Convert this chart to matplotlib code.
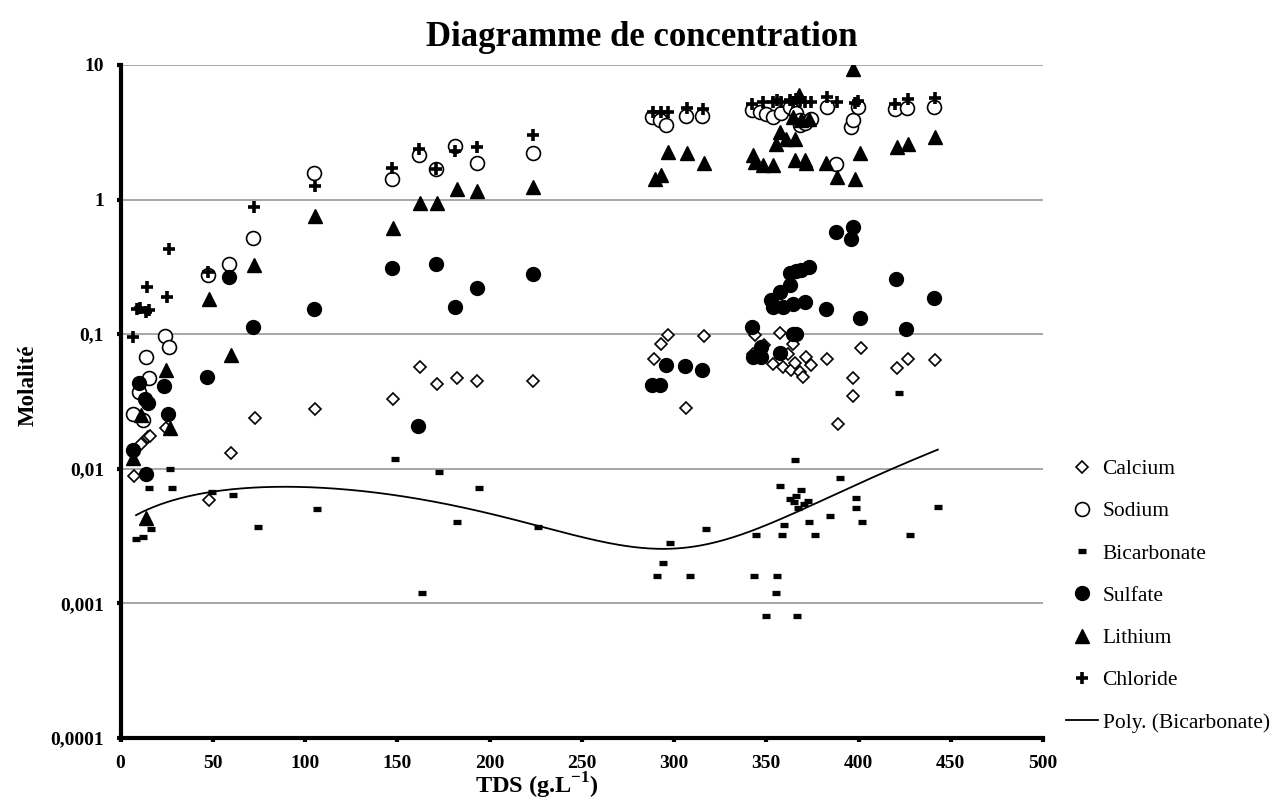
import matplotlib
matplotlib.use('Agg')
import matplotlib.pyplot as plt
import numpy as np
from matplotlib.ticker import FixedLocator, FixedFormatter, NullLocator

plt.rcParams['font.family'] = ['Liberation Serif', 'DejaVu Serif']
plt.rcParams['mathtext.fontset'] = 'custom'
plt.rcParams['mathtext.rm'] = 'Liberation Serif'
plt.rcParams['mathtext.bf'] = 'Liberation Serif:bold'

# TDS (g/L) and molality
calcium_x = [7.3, 11, 15.1, 16, 24.6, 48.1, 59.7, 72.7, 105.4, 147.5, 162.2, 171.6, 182.1, 193.4, 223.5,
             289.2, 292.8, 296.8, 306.7, 316.1, 342.8, 343.7, 348.5, 353.6, 357.3, 358.9, 362, 363.6,
             364.5, 365.4, 368.1, 369.9, 371.7, 374.4, 382.9, 388.9, 396.9, 397, 401.3, 420.8, 426.8, 441.3]
calcium_y = [0.0088, 0.0153, 0.0171, 0.0175, 0.020, 0.0059, 0.0131, 0.0239, 0.0279, 0.0331, 0.0566, 0.043,
             0.047, 0.045, 0.045, 0.065, 0.084, 0.098, 0.0283, 0.097, 0.071, 0.098, 0.083, 0.060, 0.102,
             0.057, 0.071, 0.054, 0.084, 0.061, 0.052, 0.048, 0.068, 0.059, 0.065, 0.0214, 0.047, 0.035,
             0.079, 0.056, 0.065, 0.064]

sodium_x = [6.6, 10.2, 12.4, 13.8, 15.4, 24.1, 26.3, 47.2, 59, 72, 104.8, 147.3, 161.7, 170.9, 181.2,
            193.4, 223.5, 288.3, 292.3, 295.9, 306.3, 315.4, 342.2, 346.4, 350, 353.6, 358.2, 362.7, 366,
            368.1, 368.5, 371, 374.4, 382.9, 388, 396.1, 397, 399.7, 419.6, 426.2, 440.7]
sodium_y = [0.0254, 0.037, 0.023, 0.068, 0.047, 0.097, 0.081, 0.275, 0.335, 0.52, 1.58, 1.43, 2.14, 1.70,
            2.5, 1.87, 2.21, 4.12, 3.9, 3.58, 4.2, 4.2, 4.62, 4.5, 4.3, 4.12, 4.37, 4.9, 4.4, 3.9, 3.58,
            3.7, 4.0, 4.9, 1.84, 3.47, 3.9, 4.9, 4.74, 4.8, 4.85]

bicarb_x = [8.4, 12.4, 15.6, 16.3, 26.8, 27.9, 49.4, 60.8, 74.5, 106.6, 148.7, 163.2, 172.5, 182.5, 194.3,
            226.2, 290.5, 294, 297.7, 308.5, 317.2, 343.4, 344.6, 349.7, 355.1, 355.8, 357.3, 358.7,
            359.4, 363.1, 365, 365.4, 366, 366.6, 367.4, 369, 370.3, 372.4, 373.1, 376.2, 384.3, 389.8,
            398.8, 398.8, 401.7, 422, 427.7, 443]
bicarb_y = [0.0030, 0.0031, 0.0072, 0.0036, 0.0099, 0.0072, 0.0067, 0.0064, 0.0037, 0.0050, 0.0119,
            0.0012, 0.0094, 0.0040, 0.0072, 0.0037, 0.00161, 0.0020, 0.00279, 0.00161, 0.0036, 0.0016,
            0.0032, 0.0008, 0.0012, 0.0016, 0.0075, 0.0032, 0.00385, 0.0060, 0.0057, 0.0116, 0.0063,
            0.0008, 0.0051, 0.0070, 0.0055, 0.0058, 0.0040, 0.0032, 0.00444, 0.0086, 0.0061, 0.0051,
            0.0040, 0.0367, 0.0032, 0.0052]

sulfate_x = [6.9, 10.2, 13.8, 13, 15.1, 23.7, 25.9, 47, 59, 72, 104.8, 146.9, 161.3, 171, 181.2, 193.4,
             223.5, 288.3, 292.3, 295.9, 306.2, 315.4, 342, 342.8, 347.4, 347.4, 352.8, 353.6, 357.3,
             357.3, 358.9, 362.7, 362.7, 364.5, 364.5, 366.2, 366.2, 368.9, 370.8, 373.4, 382.4, 388,
             396.1, 397, 400.7, 420.1, 426, 440.7]
sulfate_y = [0.0139, 0.0435, 0.0091, 0.033, 0.031, 0.041, 0.0254, 0.048, 0.266, 0.113, 0.153, 0.308,
             0.0207, 0.33, 0.16, 0.22, 0.28, 0.042, 0.042, 0.059, 0.058, 0.054, 0.113, 0.068, 0.080,
             0.068, 0.179, 0.16, 0.206, 0.072, 0.16, 0.283, 0.231, 0.169, 0.101, 0.295, 0.101, 0.30,
             0.174, 0.316, 0.155, 0.57, 0.51, 0.63, 0.133, 0.255, 0.11, 0.186]

lithium_x = [6.9, 11, 13.8, 24.6, 26.8, 47.9, 59.7, 72.5, 105.2, 147.8, 162.2, 171.6, 182.1, 193.4, 223.5,
             289.5, 293.2, 296.8, 307, 316, 342.8, 343.7, 348.2, 353.6, 355.5, 357.3, 360.9, 364.5,
             365.4, 365.4, 367.7, 369, 370.8, 371.7, 373.4, 382.6, 388.5, 396.9, 398, 400.6, 420.8,
             426.8, 441.3]
lithium_y = [0.012, 0.025, 0.0043, 0.054, 0.020, 0.184, 0.070, 0.325, 0.76, 0.62, 0.94, 0.94, 1.19, 1.15,
             1.24, 1.43, 1.52, 2.27, 2.2, 1.86, 2.14, 1.91, 1.8, 1.8, 2.6, 3.19, 2.84, 4.12, 2.8, 1.97,
             5.97, 3.9, 1.97, 1.86, 4.0, 1.88, 1.48, 9.4, 1.43, 2.2, 2.47, 2.6, 2.93]

chloride_x = [6.8, 9, 10.6, 14, 14.2, 15.5, 25.2, 26.3, 47.2, 72.5, 105.2, 147.3, 161.7, 170.9, 181.2,
              193.4, 223.5, 288.6, 293.2, 296.8, 307, 315.7, 342.2, 348.2, 353.6, 355.8, 358.2, 362.7,
              364.5, 366.3, 368.1, 370.8, 374.4, 382.9, 388.3, 397.9, 399.7, 419.6, 426.8, 441.3]
chloride_y = [0.095, 0.155, 0.156, 0.145, 0.223, 0.152, 0.188, 0.43, 0.29, 0.88, 1.27, 1.73, 2.37, 1.70,
              2.29, 2.46, 3.01, 4.5, 4.5, 4.5, 4.75, 4.7, 5.1, 5.3, 5.3, 5.5, 5.3, 5.5, 5.3, 5.6, 5.4,
              5.3, 5.3, 5.75, 5.3, 5.2, 5.4, 5.1, 5.6, 5.65]

y_ticks = [0.0001, 0.001, 0.01, 0.1, 1, 10]
y_labels = ['0,0001', '0,001', '0,01', '0,1', '1', '10']

fig = plt.figure(figsize=(12.88, 8.05), dpi=100)
ax = fig.add_axes([0.0936, 0.0832, 0.7162, 0.8361])

ax.plot(calcium_x, calcium_y, 'D', ms=6.5, mfc='white', mec='black', mew=1.2, ls='none', label='Calcium')
ax.plot(sodium_x, sodium_y, 'o', ms=10, mfc='white', mec='black', mew=1.2, ls='none', label='Sodium')
ax.plot(bicarb_x, bicarb_y, '_', ms=6, mew=3.8, color='black', ls='none', label='Bicarbonate')
ax.plot(sulfate_x, sulfate_y, 'o', ms=10, color='black', ls='none', label='Sulfate')
ax.plot(lithium_x, lithium_y, '^', ms=10, color='black', ls='none', label='Lithium')
ax.plot(chloride_x, chloride_y, '+', ms=9, mew=2.6, color='black', ls='none', label='Chloride')

# 3rd order polynomial trend on the bicarbonate values
coef = np.polyfit(bicarb_x, bicarb_y, 3)
xs = np.linspace(min(bicarb_x), max(bicarb_x), 400)
ax.plot(xs, np.polyval(coef, xs), color='black', lw=1.3, label='Poly. (Bicarbonate)')

ax.set_yscale('log')
ax.set_xlim(0, 500)
ax.set_ylim(0.0001, 10)
ax.set_xticks(np.arange(0, 501, 50))
ax.yaxis.set_major_locator(FixedLocator(y_ticks))
ax.yaxis.set_major_formatter(FixedFormatter(y_labels))
ax.yaxis.set_minor_locator(NullLocator())
ax.yaxis.grid(True, color='#a6a6a6', lw=1.4)
ax.set_axisbelow(True)

for s in ['top', 'right']:
    ax.spines[s].set_visible(False)
for s in ['left', 'bottom']:
    ax.spines[s].set_linewidth(3)
ax.tick_params(axis='both', direction='out', length=3, width=3, pad=9, labelsize=14)
for lab in ax.get_xticklabels() + ax.get_yticklabels():
    lab.set_fontweight('bold')

fig.text(0.498, 1 - 38 / 805, 'Diagramme de concentration', ha='center', va='center',
         fontsize=25, fontweight='bold')
fig.text(537 / 1288, 1 - 786 / 805, r'TDS (g.L$^{\mathbf{-1}}$)', ha='center', va='center',
         fontsize=17.5, fontweight='bold')
fig.text(28 / 1288, 1 - 385 / 805, 'Molalité', ha='center', va='center', rotation=90,
         fontsize=16.5, fontweight='bold')

fig.legend(loc='upper left', bbox_to_anchor=(1066 / 1288, 1 - 459 / 805), frameon=False,
           fontsize=15.5, handlelength=1.5, handletextpad=0.2, labelspacing=1.03,
           borderpad=0, borderaxespad=0)

fig.savefig('out.png', dpi=100)
